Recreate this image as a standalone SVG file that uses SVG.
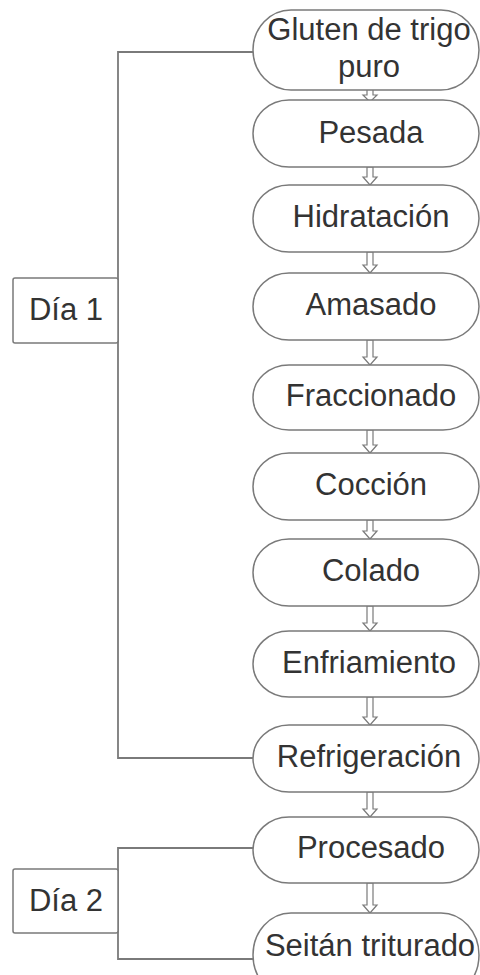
<svg xmlns="http://www.w3.org/2000/svg" width="480" height="975" viewBox="0 0 480 975">
<style>
.n{fill:#fff;stroke:#7a7a7a;stroke-width:1.5}
.t{font-family:"Liberation Sans",Arial,sans-serif;font-size:31px;fill:#333;text-anchor:middle}
.c{fill:none;stroke:#7a7a7a;stroke-width:1.8}
.a{fill:#fff;stroke:#7a7a7a;stroke-width:1.2}
</style>
<rect width="480" height="975" fill="#fff"/>
<g id="connectors">
<path class="c" d="M253,52 H118 V758 H253"/>
<path class="c" d="M253,848 H118 V959 H253"/>
<path class="a" d="M367,88 H373 V95 H377 L370,102 L363,95 H367 Z"/>
<path class="a" d="M367,167 H373 V177 H377 L370,185 L363,177 H367 Z"/>
<path class="a" d="M367,252 H373 V265 H377 L370,273 L363,265 H367 Z"/>
<path class="a" d="M367,340 H373 V357 H377 L370,365 L363,357 H367 Z"/>
<path class="a" d="M367,430 H373 V445 H377 L370,453 L363,445 H367 Z"/>
<path class="a" d="M367,520 H373 V531 H377 L370,539 L363,531 H367 Z"/>
<path class="a" d="M367,606 H373 V623 H377 L370,631 L363,623 H367 Z"/>
<path class="a" d="M367,697 H373 V717 H377 L370,725 L363,717 H367 Z"/>
<path class="a" d="M367,792 H373 V809 H377 L370,817 L363,809 H367 Z"/>
<path class="a" d="M367,883 H373 V905 H377 L370,913 L363,905 H367 Z"/>
</g>
<g id="dia1"><rect class="n" x="13" y="278" width="105" height="65" rx="2"/><text class="t" x="66" y="320">Día 1</text></g>
<g id="dia2"><rect class="n" x="13" y="869" width="105" height="64" rx="2"/><text class="t" x="66" y="911">Día 2</text></g>
<g id="n1"><rect class="n" x="253" y="10" width="226" height="80" rx="38" ry="40"/><text class="t" x="369" y="40">Gluten de trigo</text><text class="t" x="369" y="77">puro</text></g>
<g id="n2"><rect class="n" x="253" y="100" width="226" height="67" rx="36" ry="33.5"/><text class="t" x="371" y="143">Pesada</text></g>
<g id="n3"><rect class="n" x="253" y="185" width="226" height="67" rx="36" ry="33.5"/><text class="t" x="371" y="227">Hidratación</text></g>
<g id="n4"><rect class="n" x="253" y="273" width="226" height="67" rx="36" ry="33.5"/><text class="t" x="371" y="315">Amasado</text></g>
<g id="n5"><rect class="n" x="253" y="365" width="226" height="65" rx="36" ry="32.5"/><text class="t" x="371" y="406">Fraccionado</text></g>
<g id="n6"><rect class="n" x="253" y="453" width="226" height="67" rx="36" ry="33.5"/><text class="t" x="371" y="495">Cocción</text></g>
<g id="n7"><rect class="n" x="253" y="539" width="226" height="67" rx="36" ry="33.5"/><text class="t" x="371" y="581">Colado</text></g>
<g id="n8"><rect class="n" x="253" y="631" width="226" height="66" rx="36" ry="33"/><text class="t" x="369" y="673">Enfriamiento</text></g>
<g id="n9"><rect class="n" x="253" y="725" width="226" height="67" rx="36" ry="33.5"/><text class="t" x="369" y="767">Refrigeración</text></g>
<g id="n10"><rect class="n" x="253" y="817" width="226" height="66" rx="36" ry="33"/><text class="t" x="371" y="858">Procesado</text></g>
<g id="n11"><rect class="n" x="253" y="913" width="226" height="84" rx="38" ry="42"/><text class="t" x="370" y="956">Seitán triturado</text></g>
</svg>
